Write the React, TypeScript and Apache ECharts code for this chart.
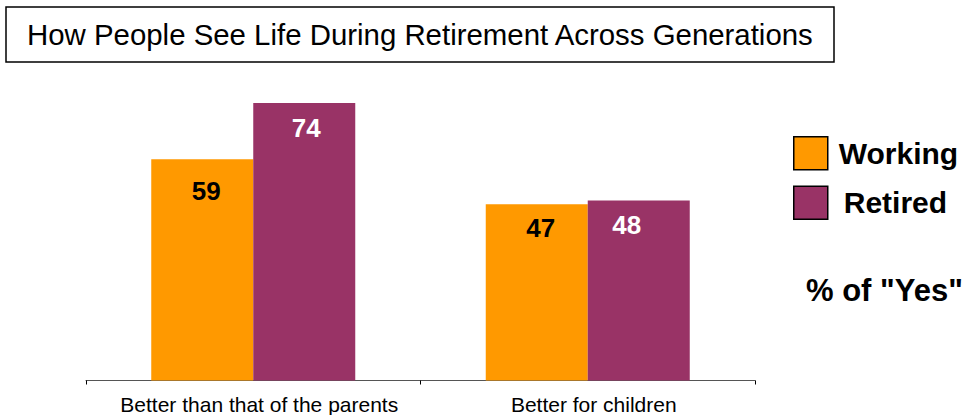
import React, { useEffect, useRef } from "react";
import * as echarts from "echarts";

const titleText = "How People See Life During Retirement Across Generations";
const categories = ["Better than that of the parents", "Better for children"];
const seriesNames = ["Working", "Retired"];
const workingValues = [59, 47];
const retiredValues = [74, 48];
const noteText = '% of "Yes"';

const FONT = "'Liberation Sans', Arial, Helvetica, sans-serif";
const ORANGE = "#FF9900";
const PURPLE = "#993366";

// small per-label nudges to mimic the original placement
const workingOffsets = [[4, 7], [4, -1]];
const retiredOffsets = [[2, 0], [-12, -1]];

export default function App() {
  const ref = useRef<HTMLDivElement>(null);
  useEffect(() => {
    document.body.style.margin = "0";
    if (!ref.current) return;
    const chart = echarts.init(ref.current, null, { renderer: "svg" });
    const mkData = (vals: number[], offs: number[][]) =>
      vals.map((v, i) => ({ value: v, label: { offset: offs[i] } }));
    chart.setOption({
      animation: false,
      backgroundColor: "#ffffff",
      title: {
        text: titleText,
        left: 6,
        top: 7,
        padding: [13, 20, 13, 21],
        borderColor: "#000",
        borderWidth: 1.5,
        textStyle: {
          fontFamily: FONT,
          fontSize: 29.4,
          fontWeight: "normal",
          color: "#000",
          lineHeight: 29,
        },
      },
      legend: {
        orient: "vertical",
        left: 788,
        top: 131,
        itemWidth: 34,
        itemHeight: 33,
        itemGap: 15,
        icon: "rect",
        itemStyle: { borderColor: "#000", borderWidth: 1.5 },
        textStyle: {
          fontFamily: FONT,
          fontSize: 30,
          fontWeight: "bold",
          color: "#000",
          padding: [0, 0, 0, 6],
        },
        data: [
          { name: seriesNames[0] },
          { name: seriesNames[1], textStyle: { padding: [0, 0, 0, 11] } },
        ],
      },
      graphic: [
        {
          type: "text",
          left: 806,
          top: 275,
          style: {
            text: noteText,
            fontFamily: FONT,
            fontSize: 31,
            fontWeight: "bold",
            fill: "#000",
          },
        },
      ],
      grid: { left: 86, right: 219, top: 5.5, bottom: 34.5 },
      xAxis: {
        type: "category",
        data: categories,
        axisLine: { lineStyle: { color: "#555", width: 1 } },
        axisTick: { show: true, length: 4, lineStyle: { color: "#000" } },
        axisLabel: {
          interval: 0,
          fontFamily: FONT,
          fontSize: 21,
          color: "#000",
          margin: 13,
          padding: [0, 0, 0, 12],
        },
      },
      yAxis: {
        type: "value",
        min: 0,
        max: 100,
        show: false,
        splitLine: { show: false },
      },
      series: [
        {
          name: seriesNames[0],
          type: "bar",
          barWidth: 102,
          barGap: "0%",
          itemStyle: { color: ORANGE },
          data: mkData(workingValues, workingOffsets),
          label: {
            show: true,
            position: "insideTop",
            distance: 12,
            fontFamily: FONT,
            fontSize: 26,
            fontWeight: "bold",
            color: "#000",
          },
        },
        {
          name: seriesNames[1],
          type: "bar",
          barWidth: 102,
          barGap: "0%",
          itemStyle: { color: PURPLE },
          data: mkData(retiredValues, retiredOffsets),
          label: {
            show: true,
            position: "insideTop",
            distance: 12,
            fontFamily: FONT,
            fontSize: 26,
            fontWeight: "bold",
            color: "#fff",
          },
        },
      ],
    });
    return () => chart.dispose();
  }, []);
  return <div ref={ref} style={{ width: 974, height: 415 }} />;
}
